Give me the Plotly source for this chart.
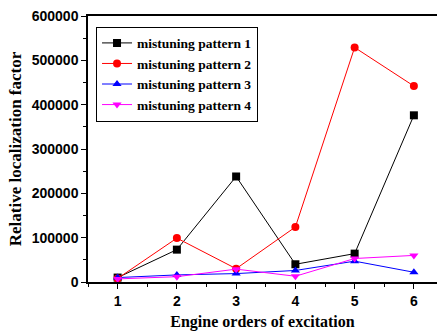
import plotly.graph_objects as go

orders = [1, 2, 3, 4, 5, 6]
pattern1 = [10000, 73000, 238000, 40000, 64000, 376000]
pattern2 = [8000, 99000, 30000, 124000, 529000, 442000]
pattern3 = [10000, 16000, 19000, 26000, 47000, 22000]
pattern4 = [7000, 12000, 29000, 13000, 53000, 60000]
names = ["mistuning pattern 1", "mistuning pattern 2", "mistuning pattern 3", "mistuning pattern 4"]
colors = ["black", "red", "blue", "magenta"]
symbols = ["square", "circle", "triangle-up", "triangle-down"]

fig = go.Figure()
for ys, n, c, s in zip([pattern1, pattern2, pattern3, pattern4], names, colors, symbols):
    fig.add_trace(go.Scatter(x=orders, y=ys, name=n, mode="lines+markers",
                             line=dict(color=c, width=1),
                             marker=dict(symbol=s, size=8, color=c)))

serif = "Liberation Serif, Times New Roman, serif"
sans = "Liberation Sans, Arial, sans-serif"
fig.update_layout(
    width=437, height=331,
    margin=dict(l=88, r=0, t=16, b=49),
    plot_bgcolor="white", paper_bgcolor="white",
    showlegend=True,
    legend=dict(x=0.023, y=0.96, xanchor="left", yanchor="top",
                bordercolor="black", borderwidth=1, bgcolor="white",
                font=dict(family=serif, size=13.5, color="black", weight="bold"),
                tracegroupgap=0, itemwidth=30),
    xaxis=dict(range=[0.5, 6.39], tickvals=orders, ticktext=[str(o) for o in orders],
               showline=True, linecolor="black", linewidth=1.5, mirror=True,
               ticks="outside", ticklen=5, tickcolor="black",
               minor=dict(ticks="outside", ticklen=3, dtick=0.5, tickcolor="black"),
               showgrid=False, zeroline=False,
               tickfont=dict(family=sans, size=14, color="black", weight="bold"),
               title=dict(text="Engine orders of excitation", standoff=10,
                          font=dict(family=serif, size=16, color="black", weight="bold"))),
    yaxis=dict(range=[0, 600000], dtick=100000, tickformat="d",
               showline=True, linecolor="black", linewidth=1.5,
               ticks="outside", ticklen=5, tickcolor="black",
               minor=dict(ticks="outside", ticklen=3, dtick=50000, tickcolor="black"),
               showgrid=False, zeroline=False,
               tickfont=dict(family=sans, size=14, color="black", weight="bold"),
               title=dict(text="Relative localization factor", standoff=6,
                          font=dict(family=serif, size=17, color="black", weight="bold"))),
)
fig.write_html("out.html")
